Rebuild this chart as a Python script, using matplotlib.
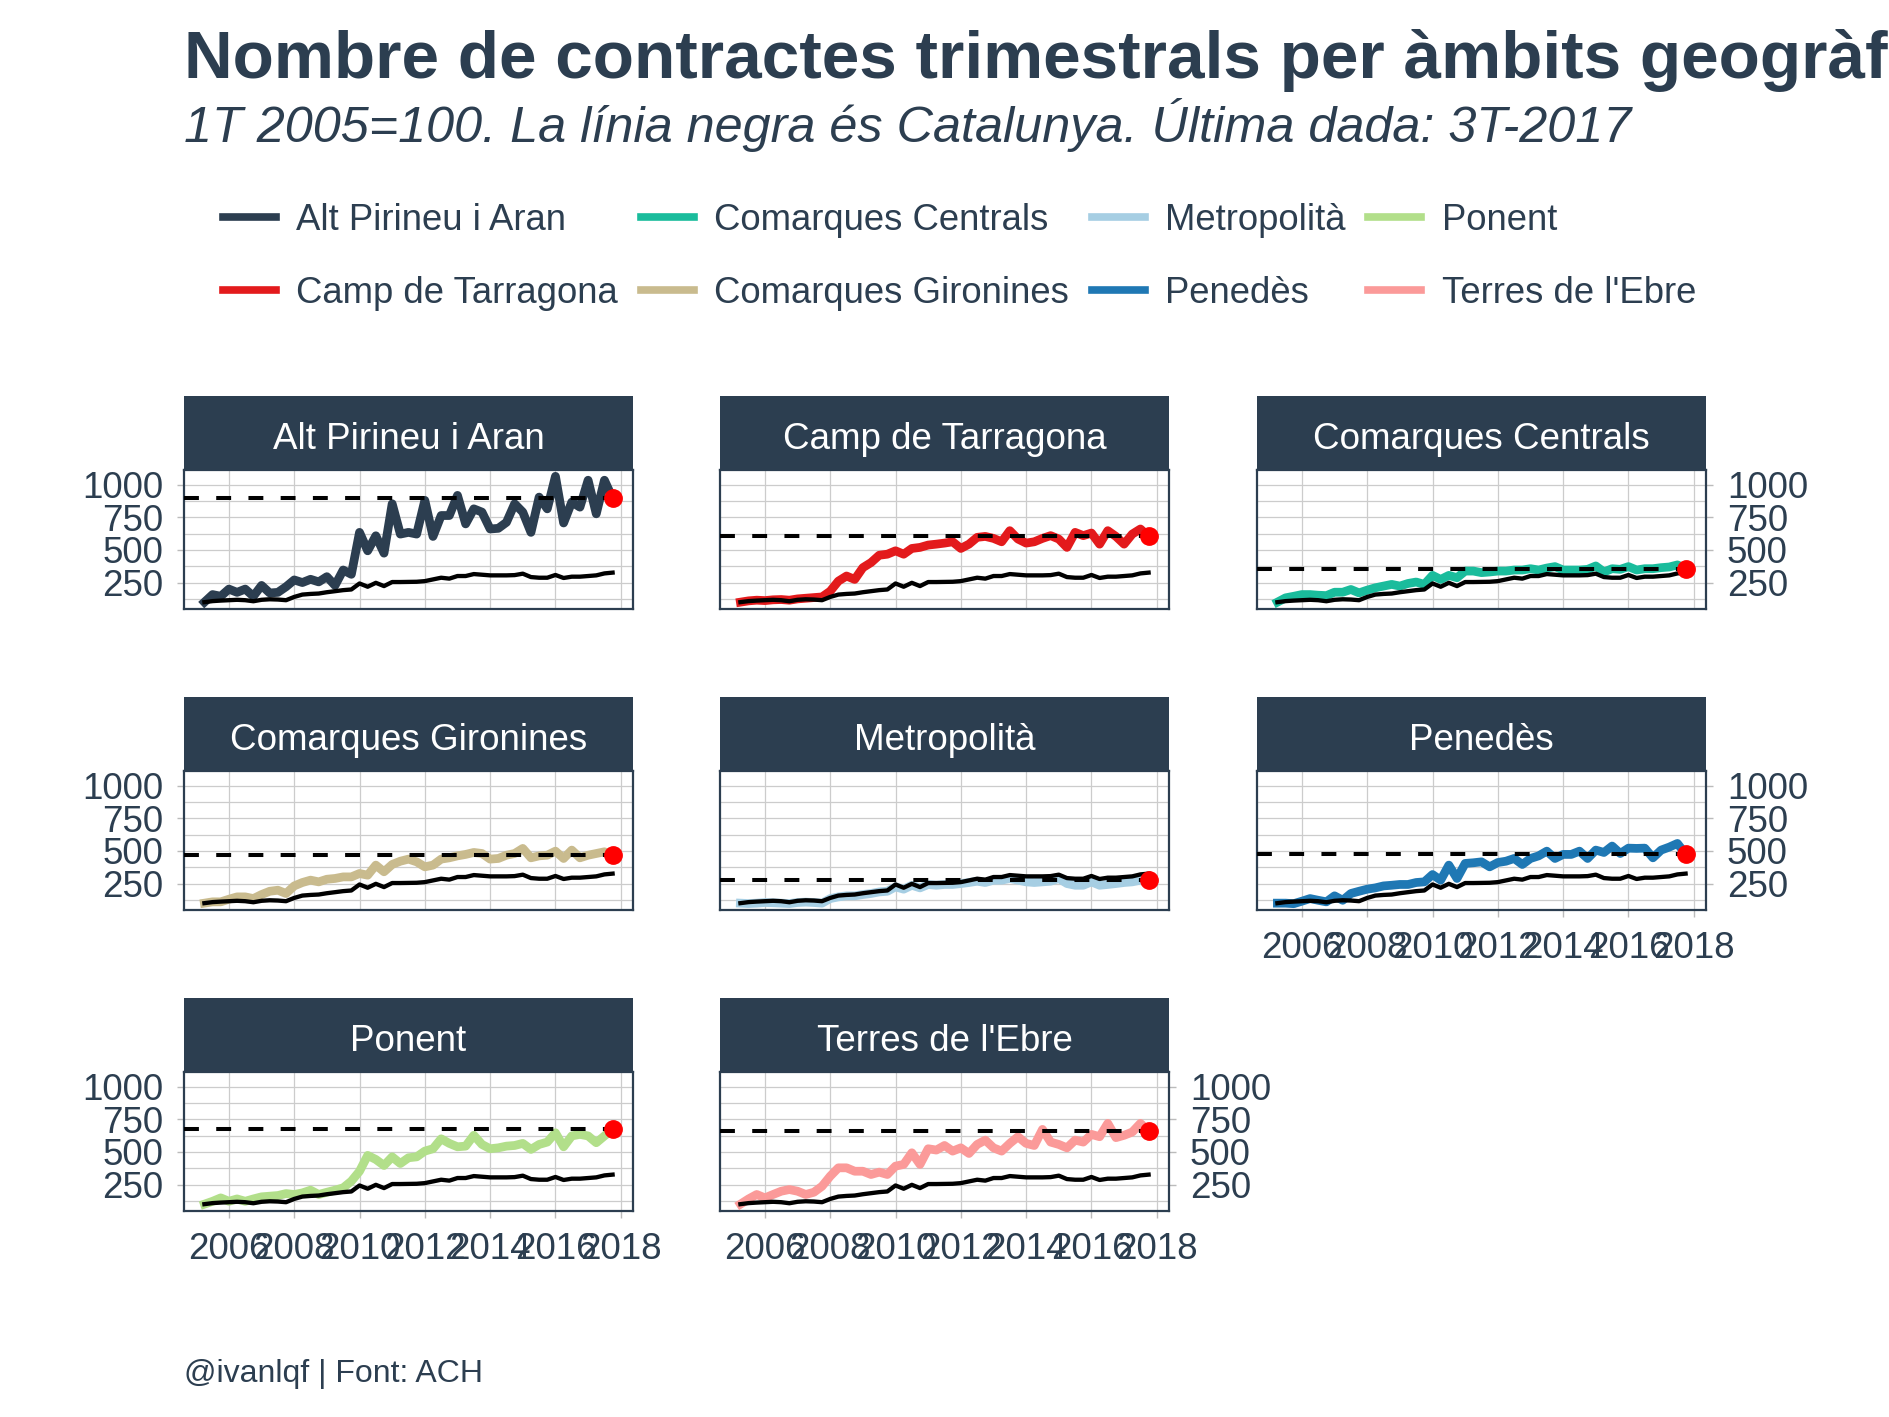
import numpy as np
import pandas as pd
import matplotlib
matplotlib.use('Agg')
import matplotlib.pyplot as plt
from matplotlib.lines import Line2D
from matplotlib.ticker import MultipleLocator

plt.rcParams['font.family'] = ['Liberation Sans', 'DejaVu Sans']

# quarterly index, 1T 2005 = 100
quarters = pd.period_range('2005Q1', '2017Q3', freq='Q')

catalunya = [100, 108, 112, 115, 118, 115, 107, 118, 122, 120, 115, 140, 158, 163, 166, 176, 184,
             192, 197, 243, 218, 248, 223, 254, 254, 255, 256, 261, 274, 287, 280, 300, 300, 315,
             310, 305, 305, 305, 307, 318, 292, 287, 287, 308, 285, 295, 295, 300, 305, 320, 326]

alt_pirineu = [100, 158, 145, 200, 175, 200, 145, 228, 170, 175, 218, 270, 250, 275, 255, 295, 228,
               346, 313, 634, 493, 608, 475, 853, 621, 634, 621, 879, 603, 763, 763, 917, 699, 814,
               789, 660, 665, 711, 853, 789, 634, 904, 814, 1063, 706, 866, 827, 1033, 776, 1033, 896]

camp_tarragona = [100, 110, 115, 112, 118, 120, 115, 125, 130, 135, 140, 184, 261, 300, 274, 364, 403,
                  459, 467, 493, 467, 511, 519, 537, 544, 552, 562, 511, 544, 596, 603, 588, 562, 647,
                  583, 552, 562, 588, 609, 583, 519, 634, 609, 629, 544, 647, 603, 544, 621, 660, 603]

comarques_centrals = [100, 133, 145, 158, 158, 153, 150, 176, 176, 197, 171, 192, 210, 223, 236, 223,
                      243, 254, 236, 305, 274, 305, 287, 338, 338, 326, 331, 338, 338, 346, 346, 356,
                      346, 361, 372, 346, 346, 346, 351, 377, 331, 356, 351, 372, 346, 356, 356, 364,
                      369, 385, 356]

comarques_gironines = [100, 110, 110, 130, 148, 148, 135, 166, 191, 199, 174, 232, 258, 276, 263, 283,
                       289, 301, 301, 327, 314, 391, 340, 396, 421, 437, 416, 378, 391, 437, 447, 462,
                       473, 488, 480, 437, 442, 467, 480, 519, 447, 462, 467, 498, 442, 506, 447, 467,
                       480, 493, 467]

metropolita = [100, 97, 100, 105, 103, 100, 97, 105, 108, 105, 100, 135, 148, 156, 156, 166, 174, 186,
               191, 225, 207, 237, 217, 243, 237, 243, 243, 250, 258, 268, 258, 276, 276, 289, 276,
               263, 258, 263, 268, 289, 250, 237, 237, 263, 237, 243, 250, 258, 263, 276, 276]

penedes = [100, 100, 96, 115, 135, 122, 110, 156, 122, 174, 191, 207, 217, 232, 237, 243, 243, 258,
           263, 319, 276, 391, 289, 404, 409, 416, 378, 411, 421, 442, 396, 442, 462, 498, 442, 473,
           473, 498, 442, 506, 488, 537, 480, 521, 519, 521, 447, 506, 529, 557, 475]

ponent = [100, 122, 148, 122, 140, 122, 140, 156, 161, 166, 181, 174, 186, 207, 174, 191, 207, 225,
          276, 352, 473, 442, 396, 462, 411, 455, 462, 506, 524, 600, 565, 539, 544, 627, 557, 524,
          531, 544, 549, 565, 519, 557, 575, 646, 539, 622, 634, 622, 570, 622, 672]

terres_ebre = [100, 140, 174, 148, 174, 199, 212, 199, 174, 191, 237, 314, 378, 378, 352, 352, 327,
               345, 327, 391, 404, 493, 404, 524, 514, 549, 506, 531, 488, 557, 590, 531, 506, 565,
               616, 565, 549, 672, 575, 557, 531, 590, 575, 634, 616, 718, 609, 627, 652, 718, 662]

regions = ['Alt Pirineu i Aran', 'Camp de Tarragona', 'Comarques Centrals', 'Comarques Gironines',
           'Metropolità', 'Penedès', 'Ponent', "Terres de l'Ebre"]
series = [alt_pirineu, camp_tarragona, comarques_centrals, comarques_gironines,
          metropolita, penedes, ponent, terres_ebre]
colors = ['#2c3e50', '#e31a1c', '#1abc9c', '#c9bb8e', '#a6cee3', '#1f78b4', '#b2df8a', '#fb9a99']

dark = '#2c3e50'
x = np.array([q.year + q.quarter / 4 for q in quarters])

W, H = 1889, 1417
fig = plt.figure(figsize=(W / 100, H / 100), dpi=100)

all_vals = np.concatenate([catalunya] + [np.array(s) for s in series])
lo, hi = all_vals.min(), all_vals.max()
ypad = 0.05 * (hi - lo)

col_left = [184, 720, 1257]
row_top = [470, 771, 1072]
pw, ph, sh = 449, 139, 74

for k, (name, vals, col) in enumerate(zip(regions, series, colors)):
    r, c = divmod(k, 3)
    left = col_left[c] / W
    ax = fig.add_axes([left, 1 - (row_top[r] + ph) / H, pw / W, ph / H])
    ax.plot(x, vals, color=col, lw=6.3, zorder=3)
    ax.plot(x, catalunya, color='black', lw=3.1, zorder=4)
    ax.axhline(vals[-1], color='black', lw=2.9, ls=(0, (3.7, 4.3)), zorder=5)
    ax.plot(x[-1], vals[-1], 'o', color='red', ms=12.5, zorder=6)

    ax.set_ylim(lo - ypad, hi + ypad)
    ax.yaxis.set_major_locator(MultipleLocator(250))
    ax.yaxis.set_minor_locator(MultipleLocator(125))
    ax.set_xticks(range(2006, 2019, 2))
    ax.grid(True, which='both', axis='y', color='#cccccc', lw=0.9)
    ax.grid(True, which='major', axis='x', color='#cccccc', lw=0.9)
    ax.set_axisbelow(True)
    for sp in ax.spines.values():
        sp.set_color(dark)
        sp.set_linewidth(1.6)

    ax.tick_params(which='minor', length=0)
    ax.tick_params(which='major', length=5, width=1, color='#bbbbbb',
                   labelsize=26.5, labelcolor=dark, pad=10)
    if c == 0:
        ax.yaxis.tick_left()
    elif c == 2 or k == len(regions) - 1:
        ax.yaxis.tick_right()
    else:
        ax.tick_params(axis='y', which='both', left=False, labelleft=False)
    if k < len(regions) - 3:
        ax.tick_params(axis='x', which='both', bottom=False, labelbottom=False)

    sax = fig.add_axes([left, 1 - row_top[r] / H, pw / W, sh / H])
    sax.set_facecolor(dark)
    sax.set_xticks([])
    sax.set_yticks([])
    for sp in sax.spines.values():
        sp.set_visible(False)
    sax.text(0.5, 0.47, name, color='white', fontsize=26.5, ha='center', va='center_baseline',
             transform=sax.transAxes)

fig.text(184 / W, 1 - 78 / H, 'Nombre de contractes trimestrals per àmbits geogràfics',
         fontsize=48.6, fontweight='bold', color=dark, va='baseline', ha='left')
fig.text(184 / W, 1 - 142 / H, '1T 2005=100. La línia negra és Catalunya. Última dada: 3T-2017',
         fontsize=36.3, fontstyle='italic', color=dark, va='baseline', ha='left')
fig.text(184 / W, 1 - 1374 / H, '@ivanlqf | Font: ACH', fontsize=23, color=dark,
         va='center', ha='left')

handles = [Line2D([], [], color=col, lw=5.5) for col in colors]
fig.legend(handles, regions, ncol=4, loc='upper left', bbox_to_anchor=(223 / W, 1 - 203 / H),
           frameon=False, fontsize=26.3, labelcolor=dark, handlelength=1.45, handletextpad=0.56,
           columnspacing=0.62, labelspacing=1.04, borderpad=0, borderaxespad=0)

fig.savefig('out.png', dpi=100)
